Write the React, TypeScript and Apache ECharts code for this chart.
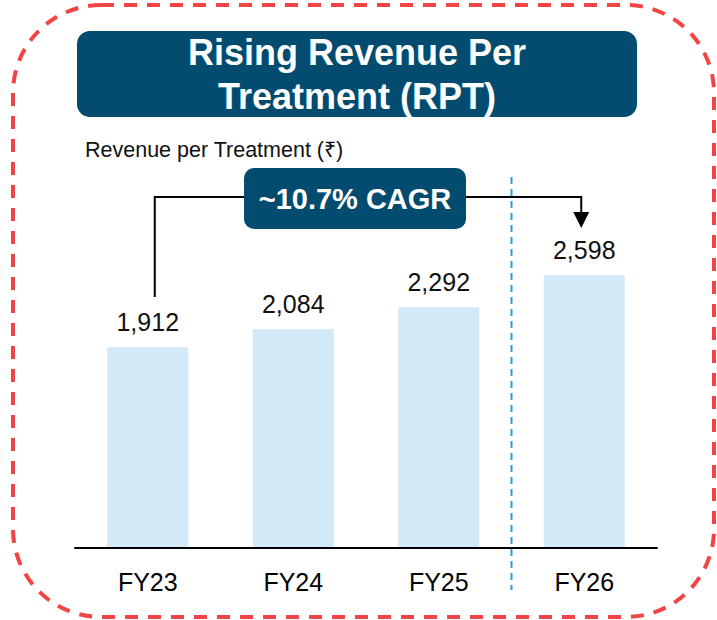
import React, { useEffect, useRef } from "react";
import * as echarts from "echarts";

const categories = ["FY23", "FY24", "FY25", "FY26"];
const rptValues = [1912, 2084, 2292, 2598];
const titleLines = ["Rising Revenue Per", "Treatment (RPT)"];
const subtitle = "Revenue per Treatment (₹)";
const cagrLabel = "~10.7% CAGR";

const FONT = "'Liberation Sans', Arial, Helvetica, sans-serif";
const NAVY = "#034b6f";

export default function App() {
  const ref = useRef<HTMLDivElement>(null);

  useEffect(() => {
    if (!ref.current) return;
    const chart = echarts.init(ref.current, null, { renderer: "svg" });

    chart.setOption({
      animation: false,
      backgroundColor: "#ffffff",
      textStyle: { fontFamily: FONT },
      grid: { left: 75, right: 60, top: 233, bottom: 72 },
      xAxis: {
        type: "category",
        data: categories,
        axisLine: { show: true, lineStyle: { color: "#000", width: 2 } },
        axisTick: { show: false },
        axisLabel: { fontSize: 25, color: "#000", margin: 21, fontFamily: FONT },
        z: 3,
      },
      yAxis: {
        type: "value",
        min: 0,
        max: 3000,
        show: false,
        splitLine: { show: false },
      },
      series: [
        {
          type: "bar",
          data: rptValues,
          barWidth: 81,
          itemStyle: { color: "#d4e9f8" },
          label: {
            show: true,
            position: "top",
            distance: 13,
            fontSize: 25,
            color: "#111",
            fontFamily: FONT,
            formatter: (p: any) => Number(p.value).toLocaleString("en-US"),
          },
        },
      ],
    });

    const p0 = chart.convertToPixel({ seriesIndex: 0 }, [0, rptValues[0]]) as number[];
    const p2 = chart.convertToPixel({ seriesIndex: 0 }, [2, rptValues[2]]) as number[];
    const p3 = chart.convertToPixel({ seriesIndex: 0 }, [3, rptValues[3]]) as number[];
    const sepX = (p2[0] + p3[0]) / 2;
    const leftX = p0[0] + 7;
    const rightX = p3[0] - 3;
    const lineY = 197;
    const boxL = 244;
    const boxR = 466;

    chart.setOption({
      graphic: [
        {
          type: "rect",
          shape: { x: 13, y: 5, width: 701, height: 612, r: 88 },
          style: { fill: "none", stroke: "#f24444", lineWidth: 4, lineDash: [13, 10] },
          z: 1,
        },
        {
          type: "rect",
          shape: { x: 77, y: 31, width: 560, height: 86, r: 13 },
          style: { fill: NAVY },
          z: 5,
        },
        {
          type: "text",
          x: 357,
          y: 52,
          style: {
            text: titleLines[0],
            fill: "#fff",
            font: `bold 36px ${FONT}`,
            align: "center",
            verticalAlign: "middle",
          },
          z: 6,
        },
        {
          type: "text",
          x: 357,
          y: 96,
          style: {
            text: titleLines[1],
            fill: "#fff",
            font: `bold 36px ${FONT}`,
            align: "center",
            verticalAlign: "middle",
          },
          z: 6,
        },
        {
          type: "text",
          x: 85,
          y: 150,
          style: {
            text: subtitle,
            fill: "#111",
            font: `21.5px ${FONT}`,
            align: "left",
            verticalAlign: "middle",
          },
          z: 6,
        },
        {
          type: "polyline",
          shape: { points: [[leftX, 297], [leftX, lineY], [boxL, lineY]] },
          style: { stroke: "#000", lineWidth: 2, fill: "none" },
          z: 5,
        },
        {
          type: "polyline",
          shape: { points: [[boxR, lineY], [rightX, lineY], [rightX, 213]] },
          style: { stroke: "#000", lineWidth: 2, fill: "none" },
          z: 5,
        },
        {
          type: "polygon",
          shape: { points: [[rightX - 8, 212], [rightX + 8, 212], [rightX, 228]] },
          style: { fill: "#000" },
          z: 5,
        },
        {
          type: "line",
          shape: { x1: sepX, y1: 177, x2: sepX, y2: 590 },
          style: { stroke: "#2e9be0", lineWidth: 2, lineDash: [7, 5] },
          z: 4,
        },
        {
          type: "rect",
          shape: { x: boxL, y: 168, width: boxR - boxL, height: 61, r: 10 },
          style: { fill: NAVY },
          z: 6,
        },
        {
          type: "text",
          x: (boxL + boxR) / 2,
          y: 199,
          style: {
            text: cagrLabel,
            fill: "#fff",
            font: `bold 29px ${FONT}`,
            align: "center",
            verticalAlign: "middle",
          },
          z: 7,
        },
      ],
    });

    return () => chart.dispose();
  }, []);

  return (
    <div
      ref={ref}
      style={{ position: "absolute", left: 0, top: 0, width: 717, height: 620 }}
    />
  );
}
